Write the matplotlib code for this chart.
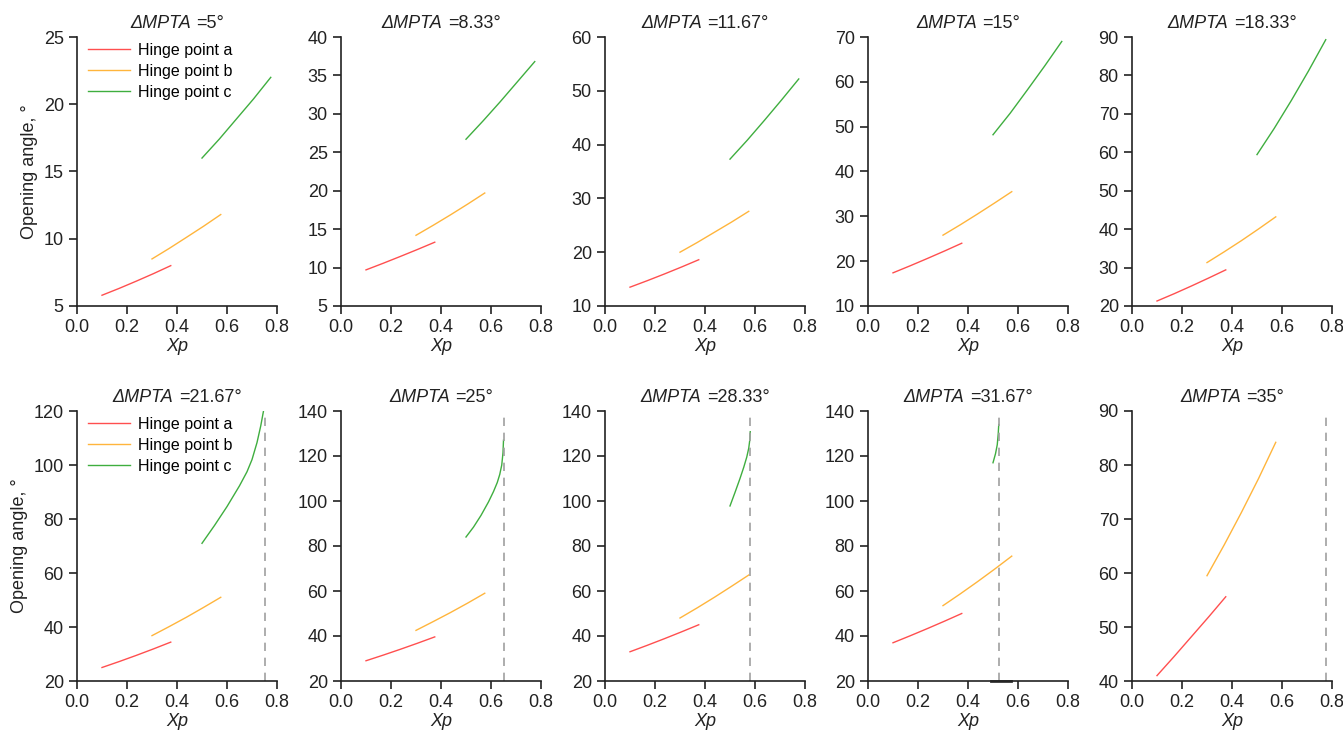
import matplotlib
matplotlib.use("Agg")
import matplotlib.pyplot as plt
from matplotlib.offsetbox import TextArea, HPacker, AnchoredOffsetbox
import numpy as np

plt.rcParams['font.family'] = ['Liberation Sans', 'DejaVu Sans']

# === datos ===
dmpta = ["5", "8.33", "11.67", "15", "18.33", "21.67", "25", "28.33", "31.67", "35"]

xa = [0.1, 0.16875, 0.2375, 0.30625, 0.375]
xb = [0.3, 0.36875, 0.4375, 0.50625, 0.575]
xc_top = [0.5, 0.56875, 0.6375, 0.70625, 0.775]

ya = [[5.8, 6.31, 6.85, 7.41, 8.0],
      [9.7, 10.56, 11.45, 12.36, 13.3],
      [13.5, 14.7, 15.95, 17.25, 18.6],
      [17.4, 18.97, 20.6, 22.27, 24.0],
      [21.3, 23.2, 25.2, 27.27, 29.4],
      [25.0, 27.2, 29.5, 31.9, 34.4],
      [29.0, 31.5, 34.1, 36.8, 39.6],
      [33.0, 35.85, 38.8, 41.85, 45.0],
      [37.0, 40.1, 43.3, 46.6, 50.0],
      [41.0, 44.55, 48.2, 51.85, 55.6]]
yb = [[8.5, 9.28, 10.1, 10.93, 11.8],
      [14.2, 15.5, 16.85, 18.25, 19.7],
      [20.0, 21.8, 23.7, 25.6, 27.6],
      [25.8, 28.1, 30.5, 32.97, 35.5],
      [31.3, 34.1, 37.0, 40.05, 43.2],
      [36.8, 40.15, 43.6, 47.25, 51.0],
      [42.5, 46.4, 50.4, 54.6, 59.0],
      [48.0, 52.5, 57.2, 62.1, 67.1],
      [53.5, 58.7, 64.1, 69.7, 75.5],
      [59.5, 65.2, 71.2, 77.5, 84.2]]

xc = [xc_top, xc_top, xc_top, xc_top, xc_top,
      [0.5, 0.55, 0.6, 0.65, 0.68, 0.7, 0.72, 0.735, 0.746],
      [0.5, 0.53, 0.56, 0.59, 0.61, 0.625, 0.635, 0.643, 0.648, 0.65],
      [0.5, 0.52, 0.54, 0.555, 0.567, 0.575, 0.579, 0.581],
      [0.5, 0.51, 0.517, 0.521, 0.523],
      []]
yc = [[16.0, 17.4, 18.9, 20.4, 22.0],
      [26.7, 29.1, 31.6, 34.2, 36.8],
      [37.3, 40.8, 44.5, 48.3, 52.2],
      [48.2, 53.0, 58.2, 63.5, 69.0],
      [59.4, 66.2, 73.5, 81.2, 89.3],
      [71, 77.6, 84.6, 92.3, 97.5, 102, 108.3, 114.5, 120],
      [84, 88.4, 93.6, 99.6, 104.2, 108.2, 111.8, 116, 121.5, 127],
      [97.8, 103.8, 110, 115, 119.5, 123.5, 127, 130.8],
      [117, 121, 125, 130, 134],
      []]

xlimite = [None, None, None, None, None, 0.75, 0.65, 0.581, 0.522, 0.777]

yticks = [np.arange(5, 26, 5), np.arange(5, 41, 5), np.arange(10, 61, 10), np.arange(10, 71, 10),
          np.arange(20, 91, 10), np.arange(20, 121, 20), np.arange(20, 141, 20),
          np.arange(20, 141, 20), np.arange(20, 141, 20), np.arange(40, 91, 10)]

c_a, c_b, c_c = "#ff4f4f", "#ffb53c", "#3fae3f"
negro = "#222222"

# === figura ===
W, H = 1343, 735
fig = plt.figure(figsize=(W / 100, H / 100), dpi=100)
lefts = [77, 341, 605, 868, 1132]
rows = [(37, 306), (411, 681)]

for k in range(10):
    r, c = divmod(k, 5)
    top, bot = rows[r]
    ax = fig.add_axes([lefts[c] / W, 1 - bot / H, 200 / W, (bot - top) / H])

    ax.plot(xa, ya[k], color=c_a, lw=1, label="Hinge point a")
    ax.plot(xb, yb[k], color=c_b, lw=1, label="Hinge point b")
    ax.plot(xc[k], yc[k], color=c_c, lw=1, label="Hinge point c")
    if xlimite[k] is not None:
        ax.axvline(xlimite[k], color="#a0a0a0", lw=1.2, ls=(0, (5, 4)))
    if k == 8:
        ax.plot([0.49, 0.57], [20, 20], color="#333333", lw=2, clip_on=False)

    ax.set_xlim(0, 0.8)
    ax.set_xticks([0.0, 0.2, 0.4, 0.6, 0.8])
    ax.set_yticks(yticks[k])
    ax.set_ylim(yticks[k][0], yticks[k][-1])
    for s in ["top", "right"]:
        ax.spines[s].set_visible(False)
    for s in ["left", "bottom"]:
        ax.spines[s].set_color(negro)
        ax.spines[s].set_linewidth(1.2)
    ax.tick_params(labelsize=13, colors=negro, length=6, width=1.2)
    ax.set_xlabel("Xp", fontsize=13, style="italic", labelpad=1, color=negro)

    # titulo: parte en cursiva + parte normal
    t1 = TextArea("ΔMPTA", textprops=dict(style="italic", size=13, color=negro))
    t2 = TextArea("=" + dmpta[k] + "°", textprops=dict(size=13, color=negro))
    caja = HPacker(children=[t1, t2], align="baseline", pad=0, sep=4)
    tit = AnchoredOffsetbox(loc="lower center", child=caja, pad=0, borderpad=0, frameon=False,
                            bbox_to_anchor=(0.5, 1.019), bbox_transform=ax.transAxes)
    ax.add_artist(tit)

    if c == 0:
        ax.set_ylabel("Opening angle, °", fontsize=13, color=negro)
        ax.legend(loc="upper left", bbox_to_anchor=(0.0, 1.02), frameon=False,
                  fontsize=11.5, handlelength=2.6, handletextpad=0.55,
                  labelspacing=0.37, borderaxespad=0.3)

fig.savefig("out.png", dpi=100)
